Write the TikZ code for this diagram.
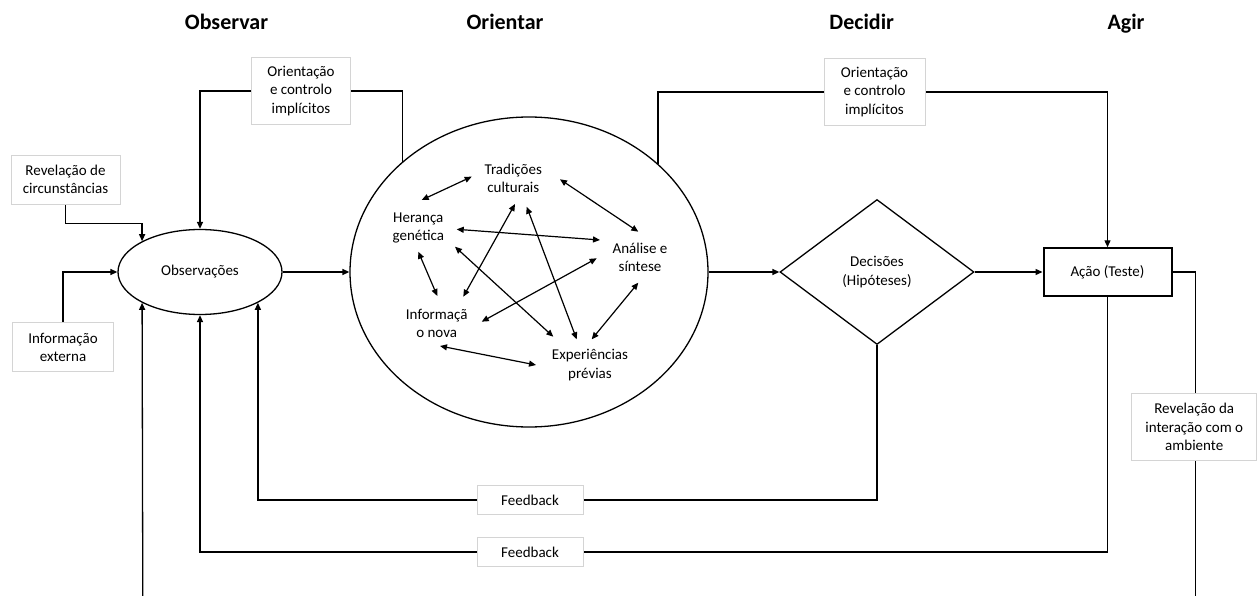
\documentclass[tikz,border=0pt]{standalone}
\usepackage{fontspec}
\setmainfont{Carlito}
\usetikzlibrary{shapes.geometric,arrows.meta}
\pgfdeclarelayer{wires}
\pgfsetlayers{wires,main}

\begin{document}
\begin{tikzpicture}[x=1pt,y=-1pt,
  font=\fontsize{15}{18.3}\selectfont,
  wire/.style={line width=1.3pt},
  arrowend/.style={-{Triangle[length=7pt,width=6pt]}},
  twoway/.style={{Triangle[length=7pt,width=6pt]}-{Triangle[length=7pt,width=6pt]}, line width=1.2pt},
  labelbox/.style={draw=black!17, fill=white, line width=0.8pt, align=center, inner sep=0pt},
  heading/.style={font=\fontsize{22}{26}\selectfont\bfseries, anchor=base},
  thought/.style={align=center, inner sep=0pt},
  outline/.style={draw, line width=1.3pt, inner sep=0pt, align=center},
]
\useasboundingbox (0,0) rectangle (1257,596);

% column headings
\node[heading] (hObs) at (226.5,30) {Observar};
\node[heading] (hOri) at (505,30) {Orientar};
\node[heading] (hDec) at (861.7,30) {Decidir};
\node[heading] (hAct) at (1126,30) {Agir};

% main stages
\node[outline, ellipse, minimum width=164pt, minimum height=85pt] (obs) at (200,272) {Observações};
\node[outline, ellipse, minimum width=358pt, minimum height=310pt] (orient) at (529,272) {};
\node[outline, diamond, minimum width=194pt, minimum height=145pt] (dec) at (877,272) {Decisões\\(Hipóteses)};
\node[draw, line width=2pt, inner sep=0pt, minimum width=128pt, minimum height=47.5pt] (act) at (1107.5,272) {Ação (Teste)};

% contents of the orientation stage
\node[thought] (trad) at (513.3,178.5) {Tradições\\culturais};
\node[thought] (her)  at (418.3,228.3) {Herança\\genética};
\node[thought] (ana)  at (640,257.3)   {Análise e\\síntese};
\node[thought] (inf)  at (436.7,323.3) {Informaçã\\o nova};
\node[thought] (exp)  at (590,365)     {Experiências\\prévias};

% labels sitting on the connectors
\node[labelbox, minimum width=99pt,  minimum height=67pt] (oc1) at (301,91)     {Orientação\\e controlo\\implícitos};
\node[labelbox, minimum width=101pt, minimum height=67pt] (oc2) at (874.5,92)   {Orientação\\e controlo\\implícitos};
\node[labelbox, minimum width=109pt, minimum height=49pt] (rc)  at (65.5,179.5) {Revelação de\\circunstâncias};
\node[labelbox, minimum width=101pt, minimum height=49pt] (ie)  at (63,347.2)   {Informação\\externa};
\node[labelbox, minimum width=125pt, minimum height=67pt] (rev) at (1194.2,427) {Revelação da\\interação com o\\ambiente};
\node[labelbox, minimum width=106pt, minimum height=28.5pt] (fb1) at (530,500) {Feedback};
\node[labelbox, minimum width=106pt, minimum height=28.5pt] (fb2) at (530,552) {Feedback};

\coordinate (envL) at (142.8,596);
\coordinate (envR) at (1195.7,596);

% connectors between the stages
\begin{pgfonlayer}{wires}
\draw[wire, arrowend] (orient.139) |- (oc1.center) -| (obs.north);
\draw[wire, arrowend] (orient.40) |- (oc2.center) -| (act.north);
\draw[wire, arrowend] (rc.south) -- ++(0,19) -| (obs.152);
\draw[wire, arrowend] (ie.north) |- (obs.west);
\draw[wire, arrowend] (obs.east) -- (orient.west);
\draw[wire, arrowend] (orient.east) -- (dec.west);
\draw[wire, arrowend] (dec.east) -- (act.west);
\draw[wire, arrowend] (dec.south) |- (fb1.center) -| (obs.332);
\draw[wire, arrowend] (act.south) |- (fb2.center) -| (obs.south);
\draw[wire] (act.east) -| (envR);
\draw[wire, arrowend] (envL) -- (obs.208);
\end{pgfonlayer}

% links inside the orientation stage
\draw[twoway] ([shift={(-41.6,-1.8)}]trad.center) -- ([shift={(3.4,-28.3)}]her.center);
\draw[twoway] ([shift={(46.7,0.8)}]trad.center) -- ([shift={(-1.7,-25.6)}]ana.center);
\draw[twoway] ([shift={(38.4,1)}]her.center) -- ([shift={(-40,-17.3)}]ana.center);
\draw[twoway] ([shift={(0,23.4)}]her.center) -- ([shift={(0.6,-27.3)}]inf.center);
\draw[twoway] ([shift={(36.7,18.4)}]her.center) -- ([shift={(-36.7,-28.3)}]exp.center);
\draw[twoway] ([shift={(1.7,25.5)}]trad.center) -- ([shift={(26.6,-26.6)}]inf.center);
\draw[twoway] ([shift={(13.4,28.2)}]trad.center) -- ([shift={(-13.3,-25.7)}]exp.center);
\draw[twoway] ([shift={(45,-1.6)}]inf.center) -- ([shift={(-43.3,1)}]ana.center);
\draw[twoway] ([shift={(-1.7,25.4)}]ana.center) -- ([shift={(1.7,-25.7)}]exp.center);
\draw[twoway] ([shift={(3.3,22.7)}]inf.center) -- ([shift={(-54,0)}]exp.center);
\end{tikzpicture}
\end{document}
